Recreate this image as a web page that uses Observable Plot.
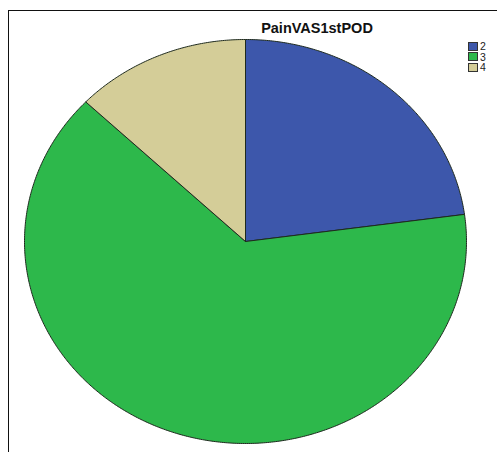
<!DOCTYPE html>
<html><head><meta charset="utf-8">
<script src="https://cdn.jsdelivr.net/npm/d3@7"></script>
<script src="https://cdn.jsdelivr.net/npm/@observablehq/plot@0.6"></script>
<style>
body{margin:0;background:#fff;font-family:Arial,"Liberation Sans",sans-serif;}
#wrap{position:relative;width:497px;height:452px;overflow:hidden;background:#fff;}
#frame{position:absolute;left:8px;top:10px;width:600px;height:600px;border-left:1.6px solid #111;border-top:1.6px solid #111;}
#title{position:absolute;top:20px;left:237px;width:160px;text-align:center;font-weight:bold;font-size:14.5px;color:#111;}
#legend{position:absolute;left:468px;top:41px;font-size:10.5px;line-height:10.5px;color:#222;}
#legend .row{display:flex;align-items:center;height:10.5px;}
#legend .sw{width:8px;height:7px;border:1px solid #333;margin-right:2px;}
#chart{position:absolute;left:0;top:0;}
</style></head>
<body>
<div id="wrap">
  <div id="chart"></div>
  <div id="frame"></div>
  <div id="title"></div>
  <div id="legend"></div>
</div>
<script>
const title = "PainVAS1stPOD";
const categories = ["2", "3", "4"];
const counts = [16, 45, 9];
const colors = ["#3D57AB", "#2DB84B", "#D4CD98"];

const arcs = d3.pie().sort(null).value(d => d)(counts);
const rows = [];
arcs.forEach((a, i) => {
  const cat = categories[i];
  rows.push({cat, x: 0, y: 0});
  const n = Math.max(2, Math.ceil((a.endAngle - a.startAngle) / (Math.PI / 360)));
  for (let k = 0; k <= n; k++) {
    const t = a.startAngle + (a.endAngle - a.startAngle) * k / n;
    rows.push({cat, x: Math.sin(t), y: Math.cos(t)});
  }
  rows.push({cat, x: 0, y: 0});
});

const plot = Plot.plot({
  width: 497,
  height: 452,
  margin: 0,
  x: {domain: [-1, 1], range: [24, 466], axis: null},
  y: {domain: [-1, 1], range: [443, 39], axis: null},
  color: {domain: categories, range: colors},
  marks: [
    Plot.line(rows, {x: "x", y: "y", z: "cat", fill: "cat", stroke: "#1e2a1e", strokeWidth: 1, strokeLinejoin: "round"})
  ]
});
document.getElementById("chart").appendChild(plot);
document.getElementById("title").textContent = title;
const leg = document.getElementById("legend");
categories.forEach((c, i) => {
  const r = document.createElement("div");
  r.className = "row";
  const s = document.createElement("div");
  s.className = "sw";
  s.style.background = colors[i];
  const l = document.createElement("span");
  l.textContent = c;
  r.appendChild(s); r.appendChild(l);
  leg.appendChild(r);
});
</script>
</body></html>
